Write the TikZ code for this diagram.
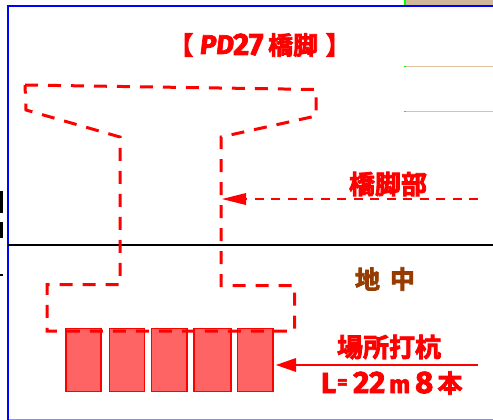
\documentclass[tikz,border=0pt]{standalone}
\usepackage{fontspec}
\newfontfamily\cjk[FakeBold=3]{Noto Sans CJK JP Bold}
\newfontfamily\latinb[FakeBold=2.5]{Fira Sans Bold}
\definecolor{pierred}{RGB}{255,0,0}
\definecolor{pilefill}{RGB}{255,100,100}
\definecolor{soil}{RGB}{150,60,0}
\definecolor{photo}{RGB}{222,195,160}
\tikzset{
  x=1pt,y=-1pt,
  outline/.style={draw=pierred,line width=3pt,dash pattern=on 13pt off 10pt},
  pile/.style={draw=pierred,fill=pilefill,line width=1.7pt},
  redtext/.style={text=pierred,inner sep=0pt,font=\cjk},
}
\begin{document}
\begin{tikzpicture}
\useasboundingbox (0,0) rectangle (493,420);
\fill[white] (0,0) rectangle (493,420);
% photo scraps
\fill[photo!85!gray] (405,0) rectangle (493,5);
\fill[green] (404,0) rectangle (406,5);
\fill[photo] (405,66) rectangle (493,67);
\fill[photo] (405,111) rectangle (493,112);
\fill[green] (404,66) rectangle (406,67);
\fill[green] (404,111) rectangle (406,112);
% clipped marks at the left edge
\fill[black] (0,191) rectangle (3,213);
\fill[black] (0,222) rectangle (3,238);
\fill[black] (0,274) rectangle (3,276);
% frame
\draw[blue!45!white,line width=1pt] (8,419.5) -- (493,419.5);
\draw[blue,line width=2pt] (8,420) -- (8,6.5) -- (493,6.5);
% ground
\draw[black,line width=2pt] (8,245) -- (493,245);
% piles
\coordinate (p1a) at (66,328.5);\coordinate (p1b) at (101,391.5);
\coordinate (p2a) at (109.5,328.5);\coordinate (p2b) at (144.5,391.5);
\coordinate (p3a) at (151.5,328.5);\coordinate (p3b) at (187,391.5);
\coordinate (p4a) at (194,328.5);\coordinate (p4b) at (231,391.5);
\coordinate (p5a) at (237.5,328.5);\coordinate (p5b) at (273,391.5);
\draw[pile] (p1a) rectangle (p1b);
\draw[pile] (p2a) rectangle (p2b);
\draw[pile] (p3a) rectangle (p3b);
\draw[pile] (p4a) rectangle (p4b);
\draw[pile] (p5a) rectangle (p5b);
% pier outline
\draw[outline] (25,85) -- (316,89.5) -- (316,116) -- (221,137) -- (221,285.5) -- (294.5,285.5) -- (294.5,331) -- (47,331) -- (47,284.5) -- (120,284.5) -- (120,137) -- (26,110) -- cycle;
% arrows
\coordinate (a1s) at (478,199);
\coordinate (a1e) at (222,199);
\coordinate (a2s) at (478,365);
\coordinate (a2e) at (276,365);
\draw[pierred,line width=1.8pt,dash pattern=on 9pt off 7.5pt] (a1s) -- (240,199);
\fill[pierred] (a1e) -- (246,193) -- (246,205) -- cycle;
\draw[pierred,line width=2.4pt] (a2s) -- (290,365);
\fill[pierred] (a2e) -- (296,358) -- (296,372) -- cycle;
% labels
\node[redtext] (t1) at (181,45) {\fontsize{25}{25}\selectfont 【};
\node[redtext,anchor=base west] (t2) at (199,54) {\latinb\fontsize{27}{27}\selectfont\addfontfeature{FakeSlant=0.12}PD};
\node[redtext,anchor=base west] (t3) at (233,55) {\latinb\fontsize{31}{31}\selectfont 27};
\node[redtext,anchor=west] (t4) at (268,45) {\fontsize{25}{25}\selectfont 橋脚};
\node[redtext] (t5) at (338,45) {\fontsize{25}{25}\selectfont 】};
\node[redtext] (l1) at (388,184) {\fontsize{26}{26}\selectfont 橋脚部};
\node[text=soil,inner sep=0pt] (l2a) at (367.5,279) {\cjk\fontsize{25}{25}\selectfont 地};
\node[text=soil,inner sep=0pt] (l2b) at (402.5,279) {\cjk\fontsize{25}{25}\selectfont 中};
\node[redtext] (l3) at (389,347) {\fontsize{26}{26}\selectfont 場所打杭};
\node[redtext,anchor=base west] (l4a) at (321,393) {\latinb\fontsize{29}{29}\selectfont L};
\node[redtext,anchor=base west] (l4b) at (337,389) {\latinb\fontsize{20}{20}\selectfont =};
\node[redtext,anchor=base west] (l4c) at (353,393) {\latinb\fontsize{31}{31}\selectfont 22};
\node[redtext,anchor=base west] (l4d) at (389,393) {\latinb\fontsize{25}{25}\selectfont m};
\node[redtext,anchor=base west] (l4e) at (415,393) {\latinb\fontsize{31}{31}\selectfont 8};
\node[redtext] (l4f) at (450,383) {\fontsize{25}{25}\selectfont 本};
\end{tikzpicture}
\end{document}
